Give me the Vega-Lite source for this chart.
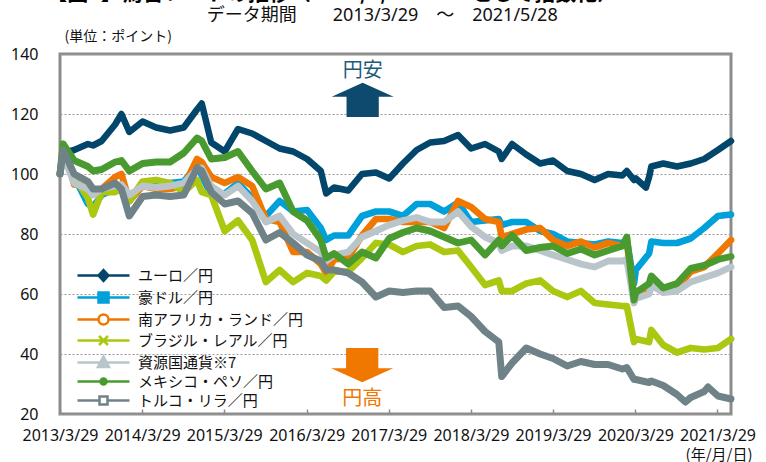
{
"$schema": "https://vega.github.io/schema/vega-lite/v6.json",
"width": 671,
"height": 360,
"autosize": {"type": "none"},
"padding": {"left": 60, "top": 54, "right": 35, "bottom": 48},
"background": "#ffffff",
"config": {"view": {"stroke": "#8c8c8c", "strokeWidth": 3}, "font": "Noto Sans CJK JP"},
"datasets": {
"names": [
{"k": "e", "name": "ユーロ／円"},
{"k": "a", "name": "豪ドル／円"},
{"k": "z", "name": "南アフリカ・ランド／円"},
{"k": "b", "name": "ブラジル・レアル／円"},
{"k": "r", "name": "資源国通貨※7"},
{"k": "m", "name": "メキシコ・ペソ／円"},
{"k": "t", "name": "トルコ・リラ／円"}
],
"fx": [
{"date": "2013-03-29", "e": 100, "a": 100, "z": 100, "b": 100, "r": 100, "m": 100, "t": 100},
{"date": "2013-04-12", "e": 107, "a": 106, "z": 110, "b": 108, "r": 106, "m": 110, "t": 108},
{"date": "2013-05-31", "e": 108, "a": 99, "z": 96.5, "b": 99, "r": 97, "m": 104.5, "t": 100},
{"date": "2013-07-31", "e": 110, "a": 90, "z": 96, "b": 92, "r": 95, "m": 102.5, "t": 97.5},
{"date": "2013-08-23", "e": 109.5, "a": 89, "z": 94, "b": 86.5, "r": 93, "m": 101, "t": 95},
{"date": "2013-09-30", "e": 111, "a": 93, "z": 95, "b": 94, "r": 95, "m": 101.5, "t": 95},
{"date": "2013-11-29", "e": 116.5, "a": 95, "z": 99, "b": 94, "r": 96, "m": 104, "t": 97},
{"date": "2013-12-27", "e": 120, "a": 94.5, "z": 100, "b": 95, "r": 96.5, "m": 104.5, "t": 95},
{"date": "2014-01-31", "e": 114, "a": 91, "z": 91, "b": 91, "r": 93, "m": 101, "t": 86},
{"date": "2014-03-31", "e": 117.5, "a": 97, "z": 96, "b": 97.5, "r": 96, "m": 103.5, "t": 92.5},
{"date": "2014-05-30", "e": 115.5, "a": 96, "z": 95, "b": 98, "r": 95.5, "m": 104, "t": 93},
{"date": "2014-07-31", "e": 114.5, "a": 97, "z": 95, "b": 97, "r": 96, "m": 104, "t": 92.5},
{"date": "2014-09-30", "e": 115.5, "a": 97.5, "z": 96, "b": 94, "r": 97, "m": 107, "t": 93},
{"date": "2014-11-28", "e": 121.5, "a": 103, "z": 105, "b": 98, "r": 101.5, "m": 112, "t": 102},
{"date": "2014-12-19", "e": 123.5, "a": 99.5, "z": 104, "b": 94, "r": 102, "m": 111, "t": 101},
{"date": "2015-01-30", "e": 110.5, "a": 93, "z": 99, "b": 93, "r": 96, "m": 105, "t": 94},
{"date": "2015-03-31", "e": 107.5, "a": 93.5, "z": 97, "b": 81, "r": 93, "m": 105.5, "t": 90},
{"date": "2015-05-29", "e": 115, "a": 97, "z": 99, "b": 84.5, "r": 96, "m": 107.5, "t": 91},
{"date": "2015-07-31", "e": 113.5, "a": 92, "z": 96, "b": 78, "r": 91, "m": 101, "t": 87},
{"date": "2015-09-30", "e": 111, "a": 86, "z": 85, "b": 64, "r": 84, "m": 95, "t": 78},
{"date": "2015-11-30", "e": 108.5, "a": 91, "z": 84, "b": 68, "r": 86, "m": 97, "t": 80.5},
{"date": "2016-01-29", "e": 107.5, "a": 87.5, "z": 74, "b": 64, "r": 80, "m": 87.5, "t": 77},
{"date": "2016-03-31", "e": 105, "a": 88, "z": 74, "b": 67, "r": 77, "m": 84.5, "t": 73},
{"date": "2016-05-31", "e": 101, "a": 82, "z": 70, "b": 66, "r": 74, "m": 78, "t": 71},
{"date": "2016-06-24", "e": 93.5, "a": 78, "z": 67, "b": 64.5, "r": 71, "m": 72, "t": 68},
{"date": "2016-07-29", "e": 95.5, "a": 79.5, "z": 71.5, "b": 67.5, "r": 73, "m": 73.5, "t": 68},
{"date": "2016-09-30", "e": 94.5, "a": 79.5, "z": 72, "b": 67.5, "r": 74, "m": 70, "t": 67},
{"date": "2016-11-30", "e": 100, "a": 86, "z": 79.5, "b": 72, "r": 79, "m": 74, "t": 64},
{"date": "2017-01-31", "e": 100.5, "a": 87.5, "z": 85, "b": 77, "r": 81, "m": 72, "t": 59},
{"date": "2017-03-31", "e": 98.5, "a": 87.5, "z": 85, "b": 76.5, "r": 83, "m": 78.5, "t": 61},
{"date": "2017-05-31", "e": 103.5, "a": 86, "z": 84, "b": 74, "r": 84.5, "m": 80.5, "t": 60.5},
{"date": "2017-07-31", "e": 108, "a": 90, "z": 84, "b": 76, "r": 85.5, "m": 82, "t": 61},
{"date": "2017-09-29", "e": 110.5, "a": 90, "z": 84, "b": 76.5, "r": 84, "m": 81, "t": 61},
{"date": "2017-11-30", "e": 111, "a": 87.5, "z": 82, "b": 74, "r": 84, "m": 79, "t": 55.5},
{"date": "2018-01-31", "e": 113, "a": 90.5, "z": 91, "b": 74.5, "r": 87.5, "m": 77, "t": 56},
{"date": "2018-03-30", "e": 108.5, "a": 84, "z": 89, "b": 69, "r": 82.5, "m": 78, "t": 52.5},
{"date": "2018-05-31", "e": 110, "a": 84.5, "z": 85, "b": 63, "r": 79, "m": 73, "t": 47.5},
{"date": "2018-07-31", "e": 107.5, "a": 85, "z": 84, "b": 64.5, "r": 77, "m": 78, "t": 44},
{"date": "2018-08-13", "e": 105, "a": 83, "z": 79, "b": 61, "r": 74.5, "m": 76, "t": 32.5},
{"date": "2018-09-28", "e": 110, "a": 84, "z": 80, "b": 61, "r": 76, "m": 79.5, "t": 37},
{"date": "2018-11-30", "e": 106.5, "a": 84, "z": 81.5, "b": 63.5, "r": 76, "m": 74.5, "t": 42},
{"date": "2019-01-31", "e": 103.5, "a": 81, "z": 82, "b": 64.5, "r": 74.5, "m": 75.5, "t": 40},
{"date": "2019-03-29", "e": 104.5, "a": 80, "z": 78, "b": 61, "r": 73, "m": 76, "t": 38.5},
{"date": "2019-05-31", "e": 101, "a": 77.5, "z": 76, "b": 59, "r": 71.5, "m": 73.5, "t": 36},
{"date": "2019-07-31", "e": 100, "a": 77, "z": 77.5, "b": 61, "r": 70, "m": 75, "t": 37.5},
{"date": "2019-09-30", "e": 98, "a": 76.5, "z": 75.5, "b": 57, "r": 69, "m": 73, "t": 36.5},
{"date": "2019-11-29", "e": 100, "a": 77.5, "z": 77, "b": 56.5, "r": 71, "m": 74.5, "t": 36.5},
{"date": "2020-01-31", "e": 99.5, "a": 77, "z": 76, "b": 56, "r": 71, "m": 76, "t": 35},
{"date": "2020-02-20", "e": 101, "a": 78, "z": 77, "b": 56, "r": 71.5, "m": 79, "t": 35.5},
{"date": "2020-03-23", "e": 98, "a": 63.5, "z": 60, "b": 44, "r": 57, "m": 58, "t": 31.5},
{"date": "2020-03-31", "e": 98.5, "a": 68, "z": 59.5, "b": 45, "r": 58.5, "m": 60.5, "t": 31.5},
{"date": "2020-05-15", "e": 95.5},
{"date": "2020-05-29", "e": 99, "a": 73.5, "z": 60.5, "b": 44, "r": 60, "m": 63.5, "t": 30.5},
{"date": "2020-06-08", "e": 102.5, "a": 77.5, "z": 65.5, "b": 48, "r": 63, "m": 66, "t": 31},
{"date": "2020-07-31", "e": 103.5, "a": 77, "z": 61.5, "b": 43, "r": 60.5, "m": 62, "t": 29.5},
{"date": "2020-09-30", "e": 102.5, "a": 77, "z": 62, "b": 40.5, "r": 61, "m": 63.5, "t": 26.5},
{"date": "2020-11-06", "t": 24},
{"date": "2020-11-30", "e": 103.5, "a": 78.5, "z": 67.5, "b": 42, "r": 64, "m": 68.5, "t": 25.5},
{"date": "2021-01-29", "e": 105, "a": 82, "z": 69, "b": 41.5, "r": 65.5, "m": 69.5, "t": 27.5},
{"date": "2021-02-15", "t": 29},
{"date": "2021-03-31", "e": 108, "a": 86, "z": 73.5, "b": 42, "r": 67, "m": 71.5, "t": 26},
{"date": "2021-05-28", "e": 111, "a": 86.5, "z": 78, "b": 45, "r": 69, "m": 72.5, "t": 25}
],
"notes": [
{"date": "2016-07-21", "v": 158.0, "label": "【図5】為替レートの推移（2013/3/29＝100として指数化）", "kind": "head"},
{"date": "2017-02-28", "v": 152.8, "label": "データ期間　　2013/3/29　～　2021/5/28", "kind": "period"}
]
},
"layer": [
{
"data": {"name": "fx"},
"transform": [
{"fold": ["e", "a", "z", "b", "r", "m", "t"], "as": ["k", "v"]},
{"filter": "isValid(datum.v)"},
{"lookup": "k", "from": {"data": {"name": "names"}, "key": "k", "fields": ["name"]}}
],
"mark": {"type": "line", "strokeJoin": "round", "strokeCap": "round"},
"encoding": {
"x": {"field": "date", "type": "temporal",
"scale": {"domain": [{"year": 2013, "month": 3, "date": 29}, {"year": 2021, "month": 5, "date": 28}], "nice": false},
"axis": {"values": [{"year": 2013, "month": 3, "date": 29}, {"year": 2014, "month": 3, "date": 29}, {"year": 2015, "month": 3, "date": 29}, {"year": 2016, "month": 3, "date": 29}, {"year": 2017, "month": 3, "date": 29}, {"year": 2018, "month": 3, "date": 29}, {"year": 2019, "month": 3, "date": 29}, {"year": 2020, "month": 3, "date": 29}, {"year": 2021, "month": 3, "date": 29}],
"labelExpr": "timeFormat(datum.value, '%Y/%-m/%-d')",
"grid": false, "domain": false, "tickSize": -5, "tickColor": "#8c8c8c", "tickWidth": 1.5,
"labelPadding": 18, "labelFont": "Noto Sans", "labelFontSize": 16, "labelColor": "#111111", "labelAngle": 0,
"labelOverlap": false, "labelFlush": false, "labelBound": false,
"title": "(年/月/日)", "titleFont": "Noto Sans CJK JP", "titleFontSize": 15, "titleFontWeight": "normal", "titleColor": "#111111",
"titleAnchor": "end", "titleAlign": "right", "titleX": 692, "titleY": 40, "titleBaseline": "middle"}},
"y": {"field": "v", "type": "quantitative",
"scale": {"domain": [20, 140], "nice": false, "zero": false},
"axis": {"values": [20, 30, 40, 50, 60, 70, 80, 90, 100, 110, 120, 130, 140],
"grid": true, "gridDash": [2, 2], "gridColor": "#9a9a9a", "gridWidth": 1,
"domain": false, "ticks": false, "labelPadding": 22, "labelFont": "Noto Sans", "labelFontSize": 16, "labelColor": "#111111", "labelFlush": false,
"title": "(単位：ポイント)", "titleAngle": 0, "titleAlign": "left", "titleX": 4, "titleY": -18, "titleBaseline": "middle",
"titleFont": "Noto Sans CJK JP", "titleFontSize": 14, "titleFontWeight": "normal", "titleColor": "#111111"}},
"stroke": {"field": "name", "type": "nominal",
"scale": {"domain": ["ユーロ／円", "豪ドル／円", "南アフリカ・ランド／円", "ブラジル・レアル／円", "資源国通貨※7", "メキシコ・ペソ／円", "トルコ・リラ／円"],
"range": ["#03466b", "#00a0da", "#f07800", "#abc70f", "#b9c5ca", "#4a9b2f", "#6f8288"]}},
"strokeWidth": {"field": "k", "type": "ordinal",
"scale": {"domain": ["e", "a", "z", "b", "r", "m", "t"], "range": [6.5, 7, 6.5, 7, 9, 6.5, 7]}, "legend": null}
}
},
{
"data": {"name": "fx"},
"transform": [
{"fold": ["e", "a", "z", "b", "r", "m", "t"], "as": ["k", "v"]},
{"filter": "isValid(datum.v)"},
{"lookup": "k", "from": {"data": {"name": "names"}, "key": "k", "fields": ["name"]}}
],
"mark": {"type": "point", "opacity": 0},
"encoding": {
"x": {"field": "date", "type": "temporal", "scale": {"domain": [{"year": 2013, "month": 3, "date": 29}, {"year": 2021, "month": 5, "date": 28}], "nice": false}},
"y": {"field": "v", "type": "quantitative", "scale": {"domain": [20, 140], "nice": false, "zero": false}},
"shape": {"field": "name", "type": "nominal",
"scale": {"domain": ["ユーロ／円", "豪ドル／円", "南アフリカ・ランド／円", "ブラジル・レアル／円", "資源国通貨※7", "メキシコ・ペソ／円", "トルコ・リラ／円"],
"range": ["M-5.2,0L5.2,0M0,-1.1L1,0L0,1.1L-1,0Z", "M-5.2,0L5.2,0M-1,-1L1,-1L1,1L-1,1Z", "M-5.2,0L-1,0M1,0L5.2,0M-1,0A1,1,0,1,1,1,0A1,1,0,1,1,-1,0Z", "M-5.2,0L5.2,0M-0.9,-0.9L0.9,0.9M-0.9,0.9L0.9,-0.9", "M-5.2,0L5.2,0M0,-1.2L1.1,0.9L-1.1,0.9Z", "M-5.2,0L5.2,0M-0.6,0A0.6,0.6,0,1,1,0.6,0A0.6,0.6,0,1,1,-0.6,0Z", "M-5.2,0L-0.8,0M0.8,0L5.2,0M-0.8,-0.8L0.8,-0.8L0.8,0.8L-0.8,0.8Z"]},
"legend": {"title": null, "orient": "none", "legendX": 36, "legendY": 214, "direction": "vertical", "padding": 0, "symbolSize": 100, "symbolStrokeWidth": 2.5, "symbolOpacity": 1, "labelFont": "Noto Sans CJK JP", "labelFontSize": 15, "labelColor": "#111111", "labelOffset": 27, "rowPadding": 1, "labelLimit": 300}},
"stroke": {"field": "name", "type": "nominal",
"scale": {"domain": ["ユーロ／円", "豪ドル／円", "南アフリカ・ランド／円", "ブラジル・レアル／円", "資源国通貨※7", "メキシコ・ペソ／円", "トルコ・リラ／円"],
"range": ["#03466b", "#00a0da", "#f07800", "#abc70f", "#b9c5ca", "#4a9b2f", "#6f8288"]},
"legend": {"title": null, "orient": "none", "legendX": 36, "legendY": 214, "direction": "vertical", "padding": 0, "symbolSize": 100, "symbolStrokeWidth": 2.5, "symbolOpacity": 1, "labelFont": "Noto Sans CJK JP", "labelFontSize": 15, "labelColor": "#111111", "labelOffset": 27, "rowPadding": 1, "labelLimit": 300}},
"fill": {"field": "name", "type": "nominal",
"scale": {"domain": ["ユーロ／円", "豪ドル／円", "南アフリカ・ランド／円", "ブラジル・レアル／円", "資源国通貨※7", "メキシコ・ペソ／円", "トルコ・リラ／円"],
"range": ["#03466b", "#00a0da", "#ffffff", "#abc70f", "#b9c5ca", "#4a9b2f", "#ffffff"]},
"legend": {"title": null, "orient": "none", "legendX": 36, "legendY": 214, "direction": "vertical", "padding": 0, "symbolSize": 100, "symbolStrokeWidth": 2.5, "symbolOpacity": 1, "labelFont": "Noto Sans CJK JP", "labelFontSize": 15, "labelColor": "#111111", "labelOffset": 27, "rowPadding": 1, "labelLimit": 300}}
}
},
{
"data": {"values": [{"date": "2016-12-03", "v": 124.7}]},
"mark": {"type": "point", "shape": "M0,-0.55L1,-0.1L0.52,-0.1L0.52,0.55L-0.52,0.55L-0.52,-0.1L-1,-0.1Z", "size": 3844, "filled": true, "fill": "#0d4a6e", "strokeWidth": 0, "opacity": 1},
"encoding": {
"x": {"field": "date", "type": "temporal", "scale": {"domain": [{"year": 2013, "month": 3, "date": 29}, {"year": 2021, "month": 5, "date": 28}], "nice": false}},
"y": {"field": "v", "type": "quantitative", "scale": {"domain": [20, 140], "nice": false, "zero": false}}
}
},
{
"data": {"values": [{"date": "2016-12-01", "v": 36.3}]},
"mark": {"type": "point", "shape": "M0,0.55L1,0.1L0.52,0.1L0.52,-0.55L-0.52,-0.55L-0.52,0.1L-1,0.1Z", "size": 3844, "filled": true, "fill": "#f07800", "strokeWidth": 0, "opacity": 1},
"encoding": {
"x": {"field": "date", "type": "temporal", "scale": {"domain": [{"year": 2013, "month": 3, "date": 29}, {"year": 2021, "month": 5, "date": 28}], "nice": false}},
"y": {"field": "v", "type": "quantitative", "scale": {"domain": [20, 140], "nice": false, "zero": false}}
}
},
{
"data": {"values": [{"date": "2016-12-03", "v": 134.3, "label": "円安"}]},
"mark": {"type": "text", "font": "Noto Sans CJK JP", "fontSize": 20, "color": "#1f5a7a", "align": "center", "baseline": "middle"},
"encoding": {
"x": {"field": "date", "type": "temporal", "scale": {"domain": [{"year": 2013, "month": 3, "date": 29}, {"year": 2021, "month": 5, "date": 28}], "nice": false}},
"y": {"field": "v", "type": "quantitative", "scale": {"domain": [20, 140], "nice": false, "zero": false}},
"text": {"field": "label"}
}
},
{
"data": {"values": [{"date": "2016-12-01", "v": 25, "label": "円高"}]},
"mark": {"type": "text", "font": "Noto Sans CJK JP", "fontSize": 20, "color": "#f07800", "align": "center", "baseline": "middle"},
"encoding": {
"x": {"field": "date", "type": "temporal", "scale": {"domain": [{"year": 2013, "month": 3, "date": 29}, {"year": 2021, "month": 5, "date": 28}], "nice": false}},
"y": {"field": "v", "type": "quantitative", "scale": {"domain": [20, 140], "nice": false, "zero": false}},
"text": {"field": "label"}
}
},
{
"data": {"name": "notes"},
"transform": [{"filter": "datum.kind == 'head'"}],
"mark": {"type": "text", "font": "Noto Sans CJK JP", "fontSize": 21, "fontWeight": "bold", "color": "#000000", "align": "center", "baseline": "alphabetic"},
"encoding": {
"x": {"field": "date", "type": "temporal", "scale": {"domain": [{"year": 2013, "month": 3, "date": 29}, {"year": 2021, "month": 5, "date": 28}], "nice": false}},
"y": {"field": "v", "type": "quantitative", "scale": {"domain": [20, 140], "nice": false, "zero": false}},
"text": {"field": "label"}
}
},
{
"data": {"name": "notes"},
"transform": [{"filter": "datum.kind == 'period'"}],
"mark": {"type": "text", "font": "Noto Sans, Noto Sans CJK JP", "fontSize": 18, "color": "#111111", "align": "center", "baseline": "middle"},
"encoding": {
"x": {"field": "date", "type": "temporal", "scale": {"domain": [{"year": 2013, "month": 3, "date": 29}, {"year": 2021, "month": 5, "date": 28}], "nice": false}},
"y": {"field": "v", "type": "quantitative", "scale": {"domain": [20, 140], "nice": false, "zero": false}},
"text": {"field": "label"}
}
}
]
}
